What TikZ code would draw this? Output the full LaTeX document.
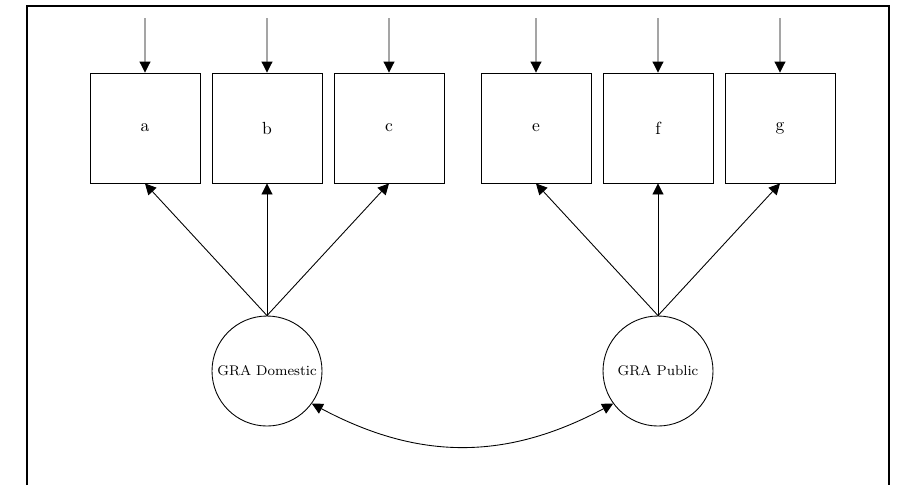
\documentclass[tikz,border=0pt]{standalone}
\usepackage{tikz}
\usetikzlibrary{arrows.meta}
\begin{document}
\begin{tikzpicture}[scale=0.2]
\tikzstyle{every node}+=[inner sep=0pt]
\tikzstyle{item}=[draw, black, line width=0.5pt, minimum size=2.2cm, font=\normalsize]
\tikzstyle{factor}=[draw, black, circle, line width=0.5pt, minimum size=2.2cm, font=\fontsize{8}{10}\selectfont]
\tikzstyle{arr}=[black, line width=0.5pt, -{Triangle[length=2.2mm,width=2.2mm]}]
\useasboundingbox (0,0) rectangle (89.8,-48.5);
\draw [black, line width=0.7pt] (2.7,-48.5) -- (2.7,-0.6) -- (88.9,-0.6) -- (88.9,-48.5);
% observed items
\draw (14.5,-12.8) node [item] (a) {a};
\draw (26.7,-12.8) node [item] (b) {b};
\draw (38.9,-12.8) node [item] (c) {c};
\draw (53.6,-12.8) node [item] (e) {e};
\draw (65.8,-12.8) node [item] (f) {f};
\draw (78.0,-12.8) node [item] (g) {g};
% error terms
\coordinate (ta) at (14.5,-1.8);
\coordinate (tb) at (26.7,-1.8);
\coordinate (tc) at (38.9,-1.8);
\coordinate (te) at (53.6,-1.8);
\coordinate (tf) at (65.8,-1.8);
\coordinate (tg) at (78.0,-1.8);
\draw [arr] (ta) -- (a);
\draw [arr] (tb) -- (b);
\draw [arr] (tc) -- (c);
\draw [arr] (te) -- (e);
\draw [arr] (tf) -- (f);
\draw [arr] (tg) -- (g);
% latent factors
\draw (26.7,-37.1) node [factor] (dom) {GRA Domestic};
\draw (65.8,-37.1) node [factor] (pub) {GRA Public};
\draw [arr] (dom.north) -- (a.south);
\draw [arr] (dom.north) -- (b.south);
\draw [arr] (dom.north) -- (c.south);
\draw [arr] (pub.north) -- (e.south);
\draw [arr] (pub.north) -- (f.south);
\draw [arr] (pub.north) -- (g.south);
\draw [black, line width=0.5pt, {Triangle[length=2.2mm,width=2.2mm]}-{Triangle[length=2.2mm,width=2.2mm]}] (dom.-36) .. controls +(10.7,-5.7) and +(-10.7,-5.7) .. (pub.-144);
\end{tikzpicture}
\end{document}
